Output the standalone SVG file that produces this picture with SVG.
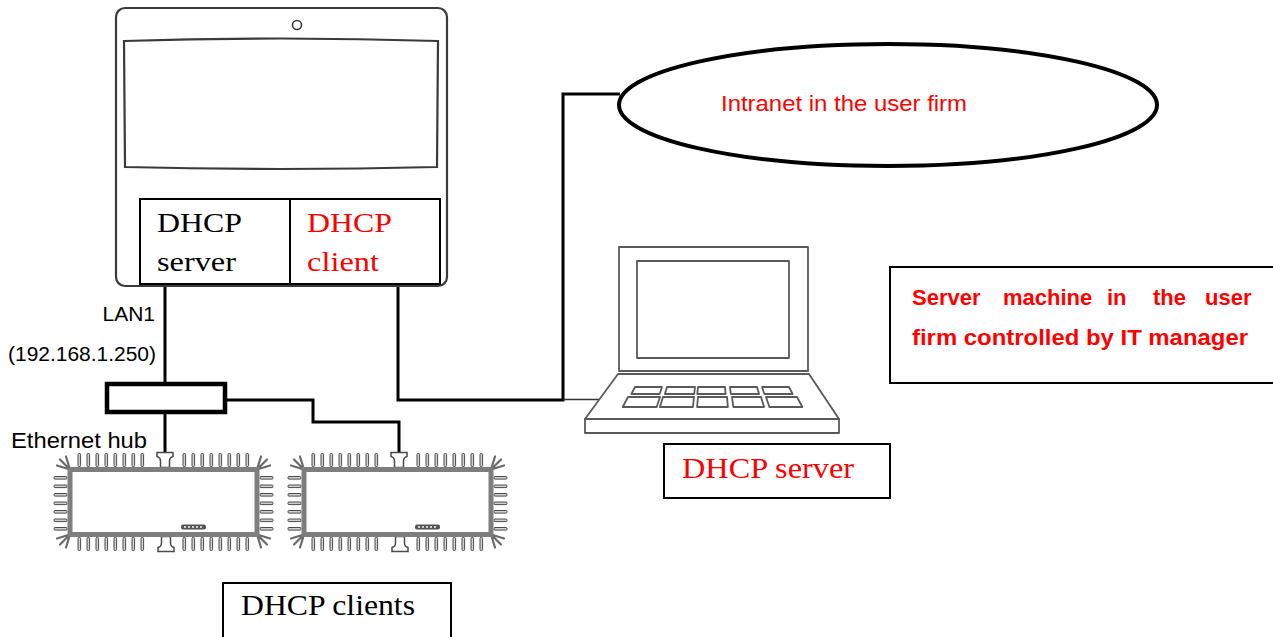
<svg xmlns="http://www.w3.org/2000/svg" width="1273" height="637" viewBox="0 0 1273 637">
  <style>
    .wire { fill: none; stroke: #000; stroke-width: 3; }
    .box { fill: #fff; stroke: #000; stroke-width: 2; }
    .serif { font-family: "Liberation Serif", "DejaVu Serif", serif; }
    .sans { font-family: "Liberation Sans", Arial, sans-serif; }
    .red { fill: #ff0000; }
    .blk { fill: #000; }
    .dev { fill: #fff; stroke: #3a3a3a; stroke-width: 2.2; }
    .lap { fill: #fff; stroke: #5a5a5a; stroke-width: 1.8; stroke-linejoin: round; }
    .tooth { fill: #d0d0d0; stroke: #4a4a4a; stroke-width: 1; }
    .spike { stroke: #6a6a6a; stroke-width: 2.2; stroke-linecap: round; }
  </style>
  <defs>
    <!-- Hub client unit, origin at the top-left corner of its body -->
    <g id="clientUnit">
      <g class="tooth">
        <!-- top teeth -->
        <rect x="8" y="-16" width="2.6" height="13" rx="1"/><rect x="17" y="-16" width="2.6" height="13" rx="1"/>
        <rect x="26" y="-16" width="2.6" height="13" rx="1"/><rect x="35" y="-16" width="2.6" height="13" rx="1"/>
        <rect x="44" y="-16" width="2.6" height="13" rx="1"/><rect x="53" y="-16" width="2.6" height="13" rx="1"/>
        <rect x="62" y="-16" width="2.6" height="13" rx="1"/><rect x="71" y="-16" width="2.6" height="13" rx="1"/>
        <rect x="113" y="-16" width="2.6" height="13" rx="1"/><rect x="122" y="-16" width="2.6" height="13" rx="1"/>
        <rect x="131" y="-16" width="2.6" height="13" rx="1"/><rect x="140" y="-16" width="2.6" height="13" rx="1"/>
        <rect x="149" y="-16" width="2.6" height="13" rx="1"/><rect x="158" y="-16" width="2.6" height="13" rx="1"/>
        <rect x="167" y="-16" width="2.6" height="13" rx="1"/><rect x="176" y="-16" width="2.6" height="13" rx="1"/>
        <!-- bottom teeth -->
        <rect x="8" y="68" width="2.6" height="13" rx="1"/><rect x="17" y="68" width="2.6" height="13" rx="1"/>
        <rect x="26" y="68" width="2.6" height="13" rx="1"/><rect x="35" y="68" width="2.6" height="13" rx="1"/>
        <rect x="44" y="68" width="2.6" height="13" rx="1"/><rect x="53" y="68" width="2.6" height="13" rx="1"/>
        <rect x="62" y="68" width="2.6" height="13" rx="1"/><rect x="71" y="68" width="2.6" height="13" rx="1"/>
        <rect x="113" y="68" width="2.6" height="13" rx="1"/><rect x="122" y="68" width="2.6" height="13" rx="1"/>
        <rect x="131" y="68" width="2.6" height="13" rx="1"/><rect x="140" y="68" width="2.6" height="13" rx="1"/>
        <rect x="149" y="68" width="2.6" height="13" rx="1"/><rect x="158" y="68" width="2.6" height="13" rx="1"/>
        <rect x="167" y="68" width="2.6" height="13" rx="1"/><rect x="176" y="68" width="2.6" height="13" rx="1"/>
        <!-- left teeth -->
        <rect x="-16" y="7" width="13" height="2.6" rx="1"/><rect x="-16" y="15.5" width="13" height="2.6" rx="1"/>
        <rect x="-16" y="24" width="13" height="2.6" rx="1"/><rect x="-16" y="32.5" width="13" height="2.6" rx="1"/>
        <rect x="-16" y="41" width="13" height="2.6" rx="1"/><rect x="-16" y="49.5" width="13" height="2.6" rx="1"/>
        <rect x="-16" y="58" width="13" height="2.6" rx="1"/>
        <!-- right teeth -->
        <rect x="190" y="7" width="13" height="2.6" rx="1"/><rect x="190" y="15.5" width="13" height="2.6" rx="1"/>
        <rect x="190" y="24" width="13" height="2.6" rx="1"/><rect x="190" y="32.5" width="13" height="2.6" rx="1"/>
        <rect x="190" y="41" width="13" height="2.6" rx="1"/><rect x="190" y="49.5" width="13" height="2.6" rx="1"/>
        <rect x="190" y="58" width="13" height="2.6" rx="1"/>
      </g>
      <!-- corner spikes -->
      <g class="spike">
        <path d="M0,0 L-13,-4 M0,0 L-10,-10 M0,0 L-4,-13"/>
        <path d="M187,0 L200,-4 M187,0 L197,-10 M187,0 L191,-13"/>
        <path d="M0,65 L-13,69 M0,65 L-10,75 M0,65 L-4,78"/>
        <path d="M187,65 L200,69 M187,65 L197,75 M187,65 L191,78"/>
      </g>
      <!-- port connectors -->
      <path d="M87,-17 H103 V-13 Q99.5,-12 99.5,-8.5 V-2 H90.5 V-8.5 Q90.5,-12 87,-13 Z" fill="#fff" stroke="#4a4a4a" stroke-width="1.5"/>
      <path d="M88,82 H104 V78 Q100.5,77 100.5,73.5 V67 H91.5 V73.5 Q91.5,77 88,78 Z" fill="#fff" stroke="#4a4a4a" stroke-width="1.5"/>
      <!-- body -->
      <rect x="0" y="0" width="187" height="65" fill="#fff" stroke="#7e7e7e" stroke-width="5"/>
      <!-- status badge -->
      <rect x="111" y="55" width="25" height="5" rx="2" fill="#555"/>
      <g fill="#ddd">
        <rect x="114" y="56.6" width="2" height="1.8"/><rect x="118" y="56.6" width="2" height="1.8"/>
        <rect x="122" y="56.6" width="2" height="1.8"/><rect x="126" y="56.6" width="2" height="1.8"/>
        <rect x="130" y="56.6" width="2" height="1.8"/>
      </g>
    </g>
  </defs>

  <rect x="0" y="0" width="1273" height="637" fill="#fff"/>

  <!-- connectors -->
  <g id="connectors">
    <path class="wire" d="M165,287 V384"/>
    <path class="wire" d="M165,412 V453"/>
    <path class="wire" d="M225,400 H313 V422 H399 V453"/>
    <path class="wire" d="M398,287 V400 H563 V94 H620"/>
    <path d="M563,399.5 H601" fill="none" stroke="#333" stroke-width="1.6"/>
  </g>

  <!-- gateway unit -->
  <g id="gateway">
    <rect class="dev" x="116" y="8" width="331" height="278" rx="9"/>
    <circle cx="297" cy="25" r="4.5" fill="#fff" stroke="#3a3a3a" stroke-width="1.6"/>
    <path class="dev" d="M124,41 Q281,36 438,41 L437,167 Q281,171 125,167 Z" stroke-width="1.8"/>
    <rect class="box" x="140" y="199" width="300" height="85"/>
    <line x1="290" y1="199" x2="290" y2="284" stroke="#000" stroke-width="2"/>
    <text class="serif blk" x="157" y="232" font-size="27" textLength="85" lengthAdjust="spacingAndGlyphs">DHCP</text>
    <text class="serif blk" x="157" y="271" font-size="27" textLength="79" lengthAdjust="spacingAndGlyphs">server</text>
    <text class="serif red" x="307" y="232" font-size="27" textLength="85" lengthAdjust="spacingAndGlyphs">DHCP</text>
    <text class="serif red" x="307" y="271" font-size="27" textLength="72" lengthAdjust="spacingAndGlyphs">client</text>
  </g>

  <!-- LAN1 labels -->
  <g id="lan1-label">
    <text class="sans blk" x="155" y="321" font-size="21" text-anchor="end">LAN1</text>
    <text class="sans blk" x="8" y="361" font-size="20" textLength="148" lengthAdjust="spacingAndGlyphs">(192.168.1.250)</text>
  </g>

  <!-- Ethernet hub -->
  <g id="hub">
    <rect x="107" y="384" width="118" height="28" fill="#fff" stroke="#000" stroke-width="4.5"/>
    <text class="sans blk" x="11" y="448" font-size="22" textLength="136" lengthAdjust="spacingAndGlyphs">Ethernet hub</text>
  </g>

  <!-- DHCP client units -->
  <g id="client1"><use href="#clientUnit" x="70" y="469.5"/></g>
  <g id="client2"><use href="#clientUnit" x="304" y="469.5"/></g>

  <g id="clients-label">
    <rect class="box" x="223" y="583" width="228" height="70"/>
    <text class="serif blk" x="241" y="615" font-size="29" textLength="174" lengthAdjust="spacingAndGlyphs">DHCP clients</text>
  </g>

  <!-- intranet cloud -->
  <g id="intranet">
    <ellipse cx="888" cy="105" rx="269" ry="61" fill="#fff" stroke="#000" stroke-width="4"/>
    <text class="sans red" x="721" y="111" font-size="22" textLength="246" lengthAdjust="spacingAndGlyphs">Intranet in the user firm</text>
  </g>

  <!-- laptop (DHCP server) -->
  <g id="laptop">
    <rect class="lap" x="619" y="247" width="189" height="124"/>
    <rect class="lap" x="637" y="261" width="152" height="97"/>
    <polygon class="lap" points="618,374 809,374 839,419 585,419"/>
    <rect class="lap" x="585" y="419" width="254" height="14"/>
    <g class="lap" stroke-width="1.5">
      <polygon points="635,387 662,387 659.6,394 631.4,394"/>
      <polygon points="667,387 695,387 694.2,394 664.9,394"/>
      <polygon points="698,387 725,387 725.6,394 697.3,394"/>
      <polygon points="730,387 757,387 759.1,394 730.8,394"/>
      <polygon points="762,387 789,387 792.6,394 764.4,394"/>
      <polygon points="628,397 660,397 656.7,407 622.7,407"/>
      <polygon points="663,397 694,397 692.9,407 659.9,407"/>
      <polygon points="698,397 727,397 727.9,407 697.1,407"/>
      <polygon points="732,397 761,397 764.1,407 733.3,407"/>
      <polygon points="766,397 797,397 802.4,407 769.4,407"/>
    </g>
  </g>

  <g id="server-label">
    <rect class="box" x="664" y="444" width="226" height="54"/>
    <text class="serif red" x="682" y="478" font-size="29" textLength="172" lengthAdjust="spacingAndGlyphs">DHCP server</text>
  </g>

  <!-- note box -->
  <g id="note">
    <rect class="box" x="890" y="267" width="400" height="116"/>
    <g class="sans red" font-size="22" font-weight="bold">
      <text x="912" y="305">Server</text>
      <text x="1003" y="305">machine</text>
      <text x="1107" y="305">in</text>
      <text x="1153" y="305">the</text>
      <text x="1205" y="305">user</text>
      <text x="912" y="345" textLength="336" lengthAdjust="spacingAndGlyphs">firm controlled by IT manager</text>
    </g>
  </g>
</svg>
